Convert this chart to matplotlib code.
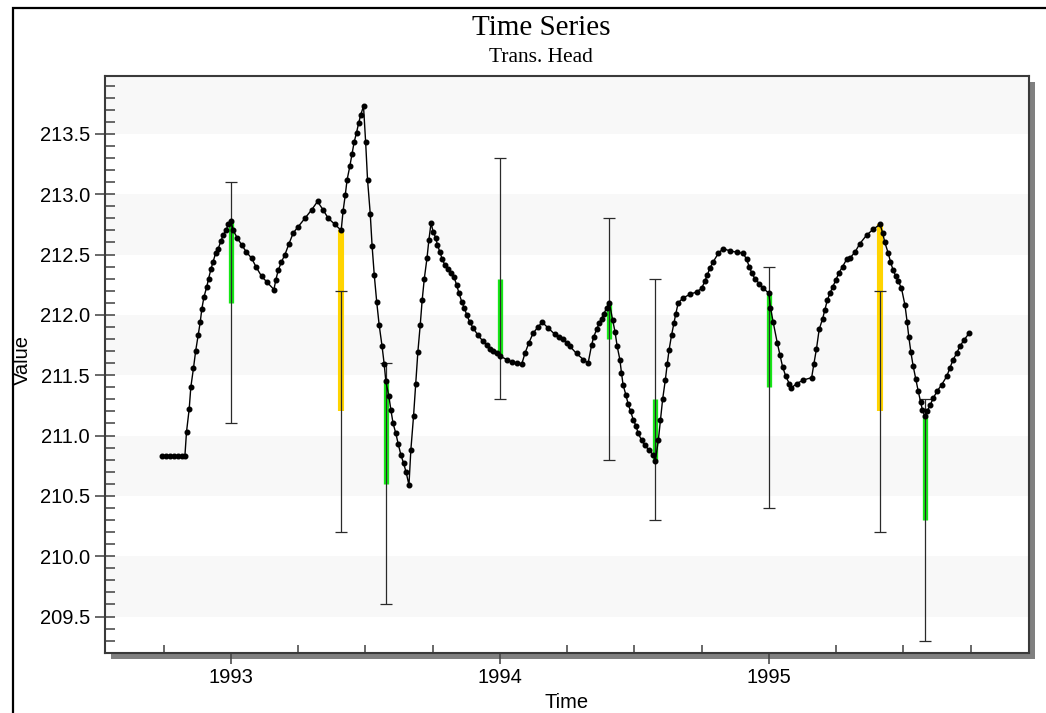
import matplotlib
matplotlib.use('Agg')
import matplotlib.pyplot as plt
import numpy as np
from matplotlib.patches import Rectangle
from matplotlib.ticker import MultipleLocator, FixedLocator, FormatStrFormatter

# computed head (decimal years)
times = [
    1992.744, 1992.758, 1992.773, 1992.788, 1992.803, 1992.818, 1992.829,
    1992.835, 1992.845, 1992.851, 1992.861, 1992.869, 1992.878, 1992.886, 1992.892, 1992.900, 1992.910,
    1992.917, 1992.926, 1992.934, 1992.943, 1992.953, 1992.963, 1992.971, 1992.981, 1992.991, 1993.000,
    1993.009, 1993.023, 1993.040, 1993.058, 1993.077, 1993.093, 1993.114, 1993.135, 1993.160,
    1993.167, 1993.176, 1993.188, 1993.201, 1993.216, 1993.232, 1993.250, 1993.275, 1993.300, 1993.322,
    1993.343, 1993.362, 1993.387, 1993.410,
    1993.417, 1993.425, 1993.432, 1993.442, 1993.450, 1993.458, 1993.467, 1993.475, 1993.483, 1993.493,
    1993.501, 1993.508, 1993.518, 1993.525, 1993.533, 1993.542, 1993.551, 1993.562, 1993.570, 1993.576,
    1993.587, 1993.595, 1993.603, 1993.613, 1993.622, 1993.632, 1993.642, 1993.651, 1993.662,
    1993.669, 1993.679, 1993.687, 1993.695, 1993.704, 1993.711, 1993.719, 1993.729, 1993.736, 1993.744,
    1993.752, 1993.761, 1993.768, 1993.777, 1993.786, 1993.796, 1993.806, 1993.818, 1993.830, 1993.839,
    1993.848, 1993.858, 1993.867, 1993.877, 1993.888, 1993.901, 1993.919, 1993.938, 1993.951, 1993.963,
    1993.975, 1993.988, 1994.000,
    1994.025, 1994.044, 1994.062, 1994.081,
    1994.093, 1994.108, 1994.124, 1994.142, 1994.157,
    1994.180, 1994.204, 1994.220, 1994.235, 1994.248, 1994.260, 1994.285, 1994.310, 1994.328,
    1994.341, 1994.349, 1994.360, 1994.369, 1994.378, 1994.387, 1994.397, 1994.407,
    1994.419, 1994.428, 1994.436, 1994.446, 1994.452, 1994.458, 1994.468, 1994.477, 1994.486, 1994.496,
    1994.506, 1994.514, 1994.527, 1994.539, 1994.554, 1994.570, 1994.578,
    1994.589, 1994.597, 1994.605, 1994.615, 1994.622, 1994.629, 1994.638, 1994.647, 1994.654, 1994.663,
    1994.681, 1994.706, 1994.731, 1994.750, 1994.762, 1994.771, 1994.781, 1994.793, 1994.812, 1994.830,
    1994.855, 1994.880, 1994.905, 1994.917, 1994.927, 1994.936, 1994.948, 1994.964, 1994.979, 1995.000,
    1995.006, 1995.016, 1995.031, 1995.041, 1995.051, 1995.063, 1995.076, 1995.081,
    1995.103, 1995.128, 1995.159,
    1995.167, 1995.177, 1995.187, 1995.200, 1995.208, 1995.217, 1995.227, 1995.237, 1995.249, 1995.261,
    1995.274, 1995.289, 1995.301, 1995.320, 1995.338, 1995.363, 1995.388, 1995.413,
    1995.423, 1995.431, 1995.444, 1995.452, 1995.462, 1995.472, 1995.481, 1995.493, 1995.506, 1995.514,
    1995.520, 1995.528, 1995.536, 1995.546, 1995.555, 1995.564, 1995.571, 1995.580,
    1995.588, 1995.599, 1995.611, 1995.626, 1995.642, 1995.661, 1995.673, 1995.685, 1995.698, 1995.710,
    1995.725, 1995.745,
]
heads = [
    210.83, 210.83, 210.83, 210.83, 210.83, 210.83, 210.83,
    211.03, 211.22, 211.40, 211.56, 211.70, 211.83, 211.94, 212.05, 212.15, 212.23,
    212.30, 212.38, 212.44, 212.51, 212.55, 212.61, 212.66, 212.70, 212.75, 212.78,
    212.70, 212.64, 212.58, 212.52, 212.47, 212.40, 212.32, 212.27, 212.21,
    212.29, 212.37, 212.44, 212.50, 212.59, 212.68, 212.73, 212.80, 212.87, 212.94,
    212.87, 212.80, 212.75, 212.70,
    212.86, 212.99, 213.12, 213.23, 213.33, 213.43, 213.51, 213.59, 213.66, 213.73,
    213.43, 213.12, 212.84, 212.57, 212.33, 212.11, 211.92, 211.74, 211.59, 211.45,
    211.33, 211.21, 211.10, 211.02, 210.93, 210.84, 210.77, 210.70, 210.59,
    210.88, 211.16, 211.43, 211.69, 211.92, 212.12, 212.30, 212.47, 212.62, 212.76,
    212.69, 212.64, 212.58, 212.52, 212.46, 212.41, 212.38, 212.35, 212.31, 212.25,
    212.18, 212.11, 212.06, 212.00, 211.94, 211.89, 211.83, 211.78, 211.75, 211.72,
    211.70, 211.68, 211.66,
    211.63, 211.61, 211.60, 211.59,
    211.68, 211.77, 211.85, 211.90, 211.94,
    211.89, 211.84, 211.82, 211.80, 211.77, 211.74, 211.68, 211.63, 211.60,
    211.75, 211.82, 211.88, 211.93, 211.97, 212.01, 212.06, 212.10,
    211.96, 211.86, 211.74, 211.63, 211.52, 211.42, 211.34, 211.26, 211.20, 211.13,
    211.08, 211.02, 210.96, 210.92, 210.88, 210.84, 210.79,
    210.96, 211.13, 211.30, 211.46, 211.59, 211.71, 211.83, 211.93, 212.01, 212.10,
    212.14, 212.17, 212.19, 212.22, 212.28, 212.33, 212.39, 212.44, 212.51, 212.55,
    212.53, 212.52, 212.51, 212.46, 212.40, 212.35, 212.30, 212.26, 212.22, 212.18,
    212.06, 211.94, 211.77, 211.67, 211.57, 211.49, 211.43, 211.39,
    211.43, 211.46, 211.48,
    211.59, 211.72, 211.88, 211.97, 212.04, 212.12, 212.18, 212.23, 212.29, 212.35,
    212.40, 212.46, 212.47, 212.52, 212.59, 212.66, 212.71, 212.75,
    212.68, 212.60, 212.51, 212.44, 212.37, 212.32, 212.28, 212.22, 212.08, 211.94,
    211.82, 211.69, 211.58, 211.47, 211.37, 211.28, 211.21, 211.16,
    211.20, 211.25, 211.31, 211.37, 211.42, 211.49, 211.56, 211.63, 211.68, 211.74,
    211.79, 211.85,
]

# observations: observed value, +/- interval, computed value at that time
obs_times = [1993.000, 1993.410, 1993.576, 1994.000, 1994.407, 1994.578, 1995.000, 1995.413, 1995.580]
obs_heads = [212.1, 211.2, 210.6, 212.3, 211.8, 211.3, 211.4, 211.2, 210.3]
obs_interval = 1.0
sim_heads = [212.78, 212.70, 211.45, 211.66, 212.10, 210.79, 212.18, 212.75, 211.16]

W, H = 1046, 713
fig = plt.figure(figsize=(W / 100, H / 100), dpi=100)
fig.patch.set_facecolor('white')

# plot box in pixels
left, right, top, bottom = 105, 1029, 76, 652.7
ax = fig.add_axes([left / W, 1 - bottom / H, (right - left) / W, (bottom - top) / H])

# drop shadow behind the plot box
fig.patches.append(Rectangle(((left + 6) / W, 1 - (bottom + 6) / H), (right - left) / W, (bottom - top) / H,
                             transform=fig.transFigure, facecolor='#808080', edgecolor='none', zorder=-2))
# outer frame (cut off at right and bottom)
fig.patches.append(Rectangle((12.5 / W, -0.1), 1.2, 1 - 7.5 / H + 0.1, transform=fig.transFigure,
                             fill=False, edgecolor='black', linewidth=1.6, zorder=-1))

ax.set_xlim(1992.532, 1995.967)
ax.set_ylim(209.2, 213.98)

# light striped background
for lo in [209.5, 210.5, 211.5, 212.5, 213.5]:
    ax.axhspan(lo, lo + 0.5, color='#f8f8f8', lw=0, zorder=0)

# residual bars: green inside interval, yellow outside
for t, o, s in zip(obs_times, obs_heads, sim_heads):
    if abs(s - o) <= obs_interval:
        ax.vlines(t, min(o, s), max(o, s), colors='#16e816', linewidth=3.8, zorder=3)
    else:
        ax.vlines(t, min(o, s), max(o, s), colors='#ffd400', linewidth=4.4, zorder=3)

ax.errorbar(obs_times, obs_heads, yerr=obs_interval, fmt='none', ecolor='#2a2a2a',
            elinewidth=0.9, capsize=4.5, capthick=0.9, zorder=4)

ax.plot(times, heads, color='black', linewidth=1.0, marker='o', markersize=3.3, zorder=5)

ax.yaxis.set_major_locator(MultipleLocator(0.5))
ax.yaxis.set_minor_locator(MultipleLocator(0.1))
ax.yaxis.set_major_formatter(FormatStrFormatter('%.1f'))
ax.xaxis.set_major_locator(FixedLocator([1993, 1994, 1995]))
ax.xaxis.set_minor_locator(MultipleLocator(0.25))
ax.xaxis.set_major_formatter(FormatStrFormatter('%d'))

tc = '#404040'
ax.tick_params(axis='y', which='major', direction='inout', length=13.7, width=1.1, color=tc,
               labelsize=14.5, pad=4)
ax.tick_params(axis='y', which='minor', direction='in', length=7.2, width=1.1, color=tc)
ax.tick_params(axis='x', which='major', direction='out', length=8, width=1.1, color=tc,
               labelsize=14.5, pad=3)
ax.tick_params(axis='x', which='minor', direction='in', length=6, width=1.1, color=tc)
for lab in ax.get_xticklabels() + ax.get_yticklabels():
    lab.set_family('Liberation Sans')

for sp in ax.spines.values():
    sp.set_color('#3a3a3a')
    sp.set_linewidth(1.5)

fig.text(541 / W, 1 - 35 / H, 'Time Series', ha='center', va='baseline',
         family='Liberation Serif', fontsize=21)
fig.text(541 / W, 1 - 61.5 / H, 'Trans. Head', ha='center', va='baseline',
         family='Liberation Serif', fontsize=15.5)
fig.text(22 / W, 1 - 360 / H, 'Value', rotation=90, ha='center', va='center',
         family='Liberation Sans', fontsize=14.5)
fig.text(567 / W, 1 - 703 / H, 'Time', ha='center', va='center',
         family='Liberation Sans', fontsize=14.5)

fig.savefig('out.png', dpi=100)
